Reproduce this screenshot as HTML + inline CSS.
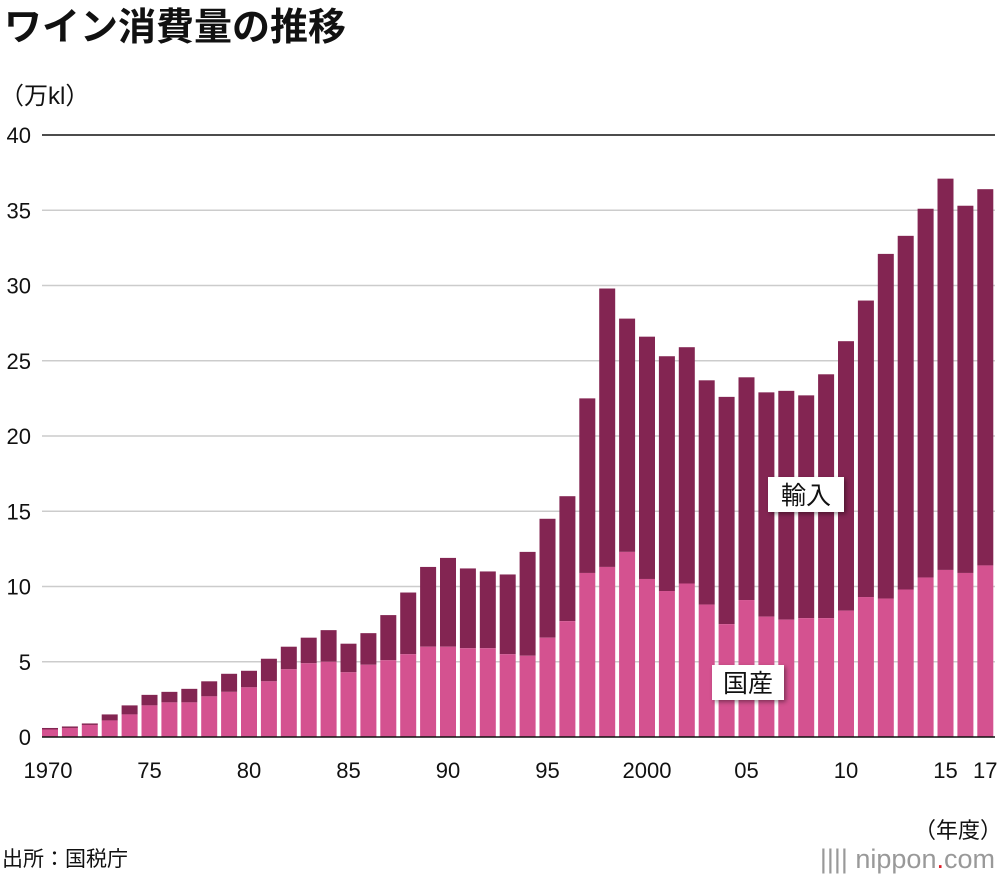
<!DOCTYPE html>
<html><head><meta charset="utf-8">
<style>
body{margin:0;background:#fff;width:1000px;height:880px;overflow:hidden;font-family:"Liberation Sans","Noto Sans CJK JP",sans-serif;}
</style></head>
<body>
<svg width="1000" height="880" font-family="Liberation Sans, Noto Sans CJK JP, sans-serif">
<text x="4" y="40" font-size="38" font-weight="bold" fill="#111">ワイン消費量の推移</text>
<text x="0" y="104" font-size="24" fill="#111">（万kl）</text>
<g id="grid"></g>
<g id="bars"></g>
<g id="xlabels"></g>
<text x="958" y="838" font-size="22" text-anchor="middle" fill="#111">（年度）</text>
<text x="2" y="866" font-size="21" fill="#111">出所：国税庁</text>
<text x="995" y="868" font-size="27" text-anchor="end" fill="#999">|||| nippon<tspan fill="#e0202a">.</tspan>com</text>
</svg>
<script>
const years=[];for(let y=1970;y<=2017;y++)years.push(y);
const totals=[0.6,0.7,0.9,1.5,2.1,2.8,3.0,3.2,3.7,4.2,4.4,5.2,6.0,6.6,7.1,6.2,6.9,8.1,9.6,11.3,11.9,11.2,11.0,10.8,12.3,14.5,16.0,22.5,29.8,27.8,26.6,25.3,25.9,23.7,22.6,23.9,22.9,23.0,22.7,24.1,26.3,29.0,32.1,33.3,35.1,37.1,35.3,36.4];
const domestic=[0.5,0.6,0.8,1.1,1.5,2.1,2.3,2.3,2.7,3.0,3.3,3.7,4.5,4.9,5.0,4.3,4.8,5.1,5.5,6.0,6.0,5.9,5.9,5.5,5.4,6.6,7.7,10.9,11.3,12.3,10.5,9.7,10.2,8.8,7.5,9.1,8.0,7.8,7.9,7.9,8.4,9.3,9.2,9.8,10.6,11.1,10.9,11.4];
const yTicks=[0,5,10,15,20,25,30,35,40];
const xLabelYears=[1970,1975,1980,1985,1990,1995,2000,2005,2010,2015,2017];
const xLabelText=["1970","75","80","85","90","95","2000","05","10","15","17"];
const NS="http://www.w3.org/2000/svg";
const yS=v=>737-v*15.05;
const xS=y=>50+(y-1970)*19.9;
function mk(t,a,p){const e=document.createElementNS(NS,t);for(const k in a)e.setAttribute(k,a[k]);p.appendChild(e);return e;}
const g=document.getElementById('grid');
yTicks.forEach(v=>{
  if(v>0){const l=mk('line',{x1:42,x2:995,y1:yS(v),y2:yS(v),stroke:v===40?'#111':'#ccc','stroke-width':1.5},g);
  
  }
  const t=mk('text',{x:31,y:yS(v)+8,'font-size':22,'text-anchor':'end',fill:'#111'},g);
  t.textContent=v;
  
  
});
const b=document.getElementById('bars');
years.forEach((yr,i)=>{
  const x=xS(yr)-8;
  const r1=mk('rect',{x:x,y:yS(totals[i]),width:16,height:yS(domestic[i])-yS(totals[i]),fill:'#832552'},b);
  
  
  const r2=mk('rect',{x:x,y:yS(domestic[i]),width:16,height:yS(0)-yS(domestic[i]),fill:'#d45290'},b);
  
  
});
const ax=mk('line',{x1:42,x2:995,y1:737,y2:737,stroke:'#111','stroke-width':1.5},b);


function lab(txt,x,y,w,name){
  const r=mk('rect',{x:x,y:y,width:w,height:35,fill:'#fff',style:'filter:drop-shadow(2px 2px 2px rgba(0,0,0,0.4))'},b);
  
  
  const t=mk('text',{x:x+w/2,y:y+27,'font-size':25,'text-anchor':'middle',fill:'#111'},b);
  t.textContent=txt;
  
  
}
lab('輸入',768,477,76,'import-label');
lab('国産',712,665,72,'domestic-label');
const xl=document.getElementById('xlabels');
xLabelYears.forEach((yr,i)=>{
  const t=mk('text',{x:xS(yr)-(i===0?2:0),y:778,'font-size':22,'text-anchor':'middle',fill:'#111'},xl);
  t.textContent=xLabelText[i];
  
  
});
</script>
</body></html>
